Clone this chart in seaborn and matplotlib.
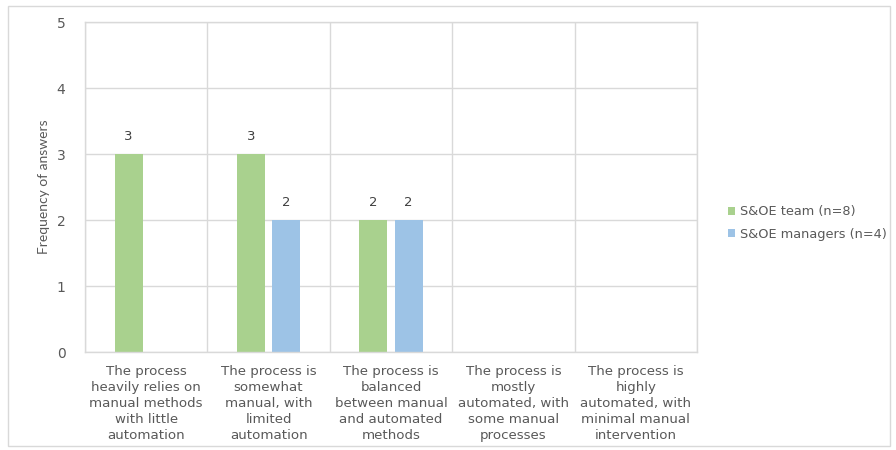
import matplotlib
matplotlib.use("Agg")
import matplotlib.pyplot as plt
from matplotlib.patches import Rectangle, Patch
import seaborn as sns
import pandas as pd

categories = [
    "The process\nheavily relies on\nmanual methods\nwith little\nautomation",
    "The process is\nsomewhat\nmanual, with\nlimited\nautomation",
    "The process is\nbalanced\nbetween manual\nand automated\nmethods",
    "The process is\nmostly\nautomated, with\nsome manual\nprocesses",
    "The process is\nhighly\nautomated, with\nminimal manual\nintervention",
]
series_names = ["S&OE team (n=8)", "S&OE managers (n=4)"]
team_values = [3, 3, 2, 0, 0]
manager_values = [0, 2, 2, 0, 0]
y_ticks = [0, 1, 2, 3, 4, 5]

colors = ["#A9D18E", "#9DC3E6"]
grid_color = "#D9D9D9"
text_color = "#595959"
wide_font = ["DejaVu Sans"]

sns.set_theme(style="white")
plt.rcParams["font.family"] = ["Lato", "DejaVu Sans"]

df = pd.DataFrame({
    "category": categories * 2,
    "series": [series_names[0]] * len(categories) + [series_names[1]] * len(categories),
    "value": team_values + manager_values,
})

fig = plt.figure(figsize=(8.96, 4.5), dpi=100)
ax = fig.add_axes([85 / 896, 1 - 352 / 450, (697 - 85) / 896, (352 - 22) / 450])

sns.barplot(data=df, x="category", y="value", hue="series", order=categories,
            hue_order=series_names, palette=colors, width=0.572, gap=0.2,
            saturation=1, linewidth=0, legend=False, ax=ax)

for container in ax.containers:
    labels = [f"{v:g}" if v > 0 else "" for v in container.datavalues]
    ax.bar_label(container, labels=labels, padding=8, fontsize=9.5,
                 color="#404040", family=wide_font)

ax.set_xlim(-0.5, len(categories) - 0.5)
ax.set_ylim(0, 5)
ax.set_yticks(y_ticks)
ax.set_xticks(range(len(categories)))
ax.set_xticklabels(categories, fontsize=9.6, color=text_color, linespacing=1.32,
                   family=wide_font)
ax.set_yticklabels([str(t) for t in y_ticks], family=wide_font)
ax.set_xticks([i - 0.5 for i in range(len(categories) + 1)], minor=True)
ax.tick_params(axis="y", labelsize=10, colors=text_color, length=0, pad=14)
ax.tick_params(axis="x", which="both", length=0, pad=9)
ax.set_xlabel("")
ax.set_ylabel("Frequency of answers", fontsize=10, color=text_color, labelpad=5)
ax.yaxis.grid(True, color=grid_color, linewidth=1)
ax.xaxis.grid(True, which="minor", color=grid_color, linewidth=1)
ax.xaxis.grid(False, which="major")
ax.set_axisbelow(True)
for spine in ax.spines.values():
    spine.set_color(grid_color)
    spine.set_linewidth(1)

handles = [Patch(facecolor=c, edgecolor="none") for c in colors]
fig.legend(handles, series_names, loc="center left", bbox_to_anchor=(716 / 896, 1 - 223 / 450),
           frameon=False, prop={"family": wide_font, "size": 9.3}, labelcolor=text_color,
           handlelength=0.6, handleheight=0.6, handletextpad=0.35, labelspacing=0.75)

fig.patches.append(Rectangle((8 / 896, 4 / 450), (890 - 8) / 896, (444 - 4) / 450,
                             transform=fig.transFigure, fill=False,
                             edgecolor=grid_color, linewidth=1))

fig.savefig("out.png", dpi=100)
